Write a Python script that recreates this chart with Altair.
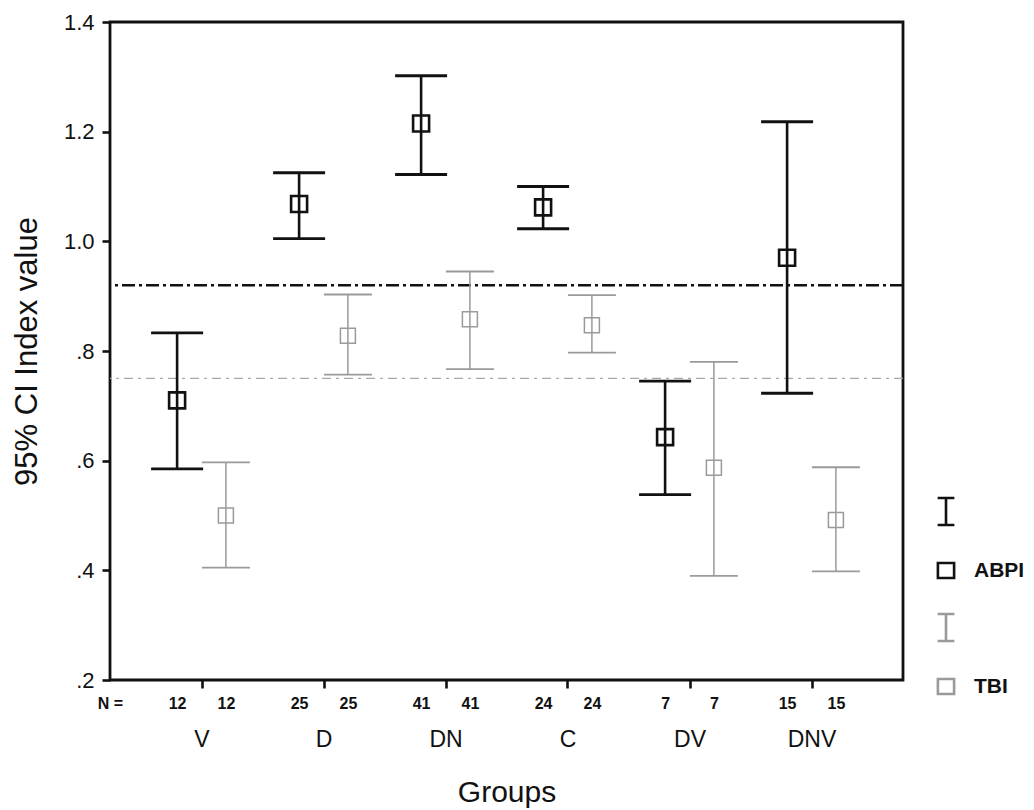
import json
import altair as alt
import pandas as pd

# ---------------- data ----------------
GROUPS = ["V", "D", "DN", "C", "DV", "DNV"]
N_ABPI = [12, 25, 41, 24, 7, 15]
N_TBI = [12, 25, 41, 24, 7, 15]

ABPI_MEAN = [0.710, 1.068, 1.215, 1.062, 0.643, 0.970]
ABPI_LOW = [0.585, 1.005, 1.122, 1.023, 0.538, 0.723]
ABPI_HIGH = [0.833, 1.125, 1.302, 1.100, 0.745, 1.218]

TBI_MEAN = [0.500, 0.828, 0.858, 0.847, 0.587, 0.492]
TBI_LOW = [0.405, 0.757, 0.767, 0.797, 0.390, 0.398]
TBI_HIGH = [0.597, 0.903, 0.945, 0.902, 0.780, 0.588]

REF_SERIES = ["ABPI", "TBI"]
REF_VALUES = [0.92, 0.75]

LEGEND_KEYS = ["ABPI_bar", "ABPI", "TBI_bar", "TBI"]

# ---------------- style ----------------
BLACK = "#111111"
GRAY = "#9a9a9a"
FONT = "Liberation Sans"
STYLE = {
    "ABPI": dict(color=BLACK, width=2.6, cap=26, size=256, shift=-0.2,
                 ref_color=BLACK, ref_width=2.4, dash=[13, 4, 3, 4]),
    "TBI": dict(color=GRAY, width=1.5, cap=24, size=225, shift=0.2,
                ref_color="#a8a8a8", ref_width=1.2, dash=[9, 5, 3, 5]),
}

rows = []
for s, mean, low, high, n in [("ABPI", ABPI_MEAN, ABPI_LOW, ABPI_HIGH, N_ABPI),
                              ("TBI", TBI_MEAN, TBI_LOW, TBI_HIGH, N_TBI)]:
    for i, g in enumerate(GROUPS):
        rows.append(dict(group=g, series=s, pos=i + STYLE[s]["shift"],
                         mean=mean[i], low=low[i], high=high[i], n=n[i]))
df = pd.DataFrame(rows)
ref_df = pd.DataFrame({"series": REF_SERIES, "value": REF_VALUES})
leg_df = pd.DataFrame({"key": LEGEND_KEYS})

X_DOMAIN = [-0.75, len(GROUPS) - 0.25]
xscale = alt.Scale(domain=X_DOMAIN, nice=False, zero=False)
yscale = alt.Scale(domain=[0.2, 1.4], nice=False, zero=False)
YTITLE = "95% CI Index value"

y_axis = alt.Axis(
    values=[0.2, 0.4, 0.6, 0.8, 1.0, 1.2, 1.4],
    labelExpr="datum.value < 1 ? slice(format(datum.value, '.1f'), 1) : format(datum.value, '.1f')",
    tickSize=8, tickWidth=2.6, tickColor=BLACK, domain=False, grid=False,
    labelFont=FONT, labelFontSize=22, labelColor=BLACK, labelPadding=8,
    titleFont=FONT, titleFontSize=31, titleFontWeight="normal", titleColor=BLACK,
    titlePadding=20,
)

x_axis_main = alt.Axis(
    orient="bottom", values=list(range(len(GROUPS))),
    labelExpr=json.dumps(GROUPS) + "[round(datum.value)]",
    tickSize=8, tickWidth=2.6, tickColor=BLACK, domain=False, grid=False,
    labelFont=FONT, labelFontSize=23, labelColor=BLACK, labelPadding=40,
    labelFlush=False, labelOverlap=False,
    titleFont=FONT, titleFontSize=30, titleFontWeight="normal", titleColor=BLACK,
    titlePadding=26,
)

# N axis: tick labels at each error bar position
n_map = {str(round(X_DOMAIN[0] * 100)): "N ="}
n_values = [X_DOMAIN[0]]
for r in rows:
    n_map[str(round(r["pos"] * 100))] = str(r["n"])
    n_values.append(r["pos"])
n_values = sorted(n_values)
x_axis_n = alt.Axis(
    orient="bottom", values=n_values,
    labelExpr=json.dumps(n_map) + "[round(datum.value * 100)]",
    ticks=False, tickSize=0, domain=False, grid=False,
    labelFont=FONT, labelFontSize=16, labelFontWeight="bold", labelColor=BLACK,
    labelPadding=15, labelFlush=False, labelOverlap=False, title="",
)

base = alt.Chart(df)
layers = []

for s in REF_SERIES:
    st = STYLE[s]
    layers.append(
        alt.Chart(ref_df).transform_filter(alt.datum.series == s)
        .mark_rule(color=st["ref_color"], strokeWidth=st["ref_width"], strokeDash=st["dash"])
        .encode(y=alt.Y("value:Q", scale=yscale, axis=y_axis, title=YTITLE))
    )

for k, s in enumerate(["ABPI", "TBI"]):
    st = STYLE[s]
    sub = base.transform_filter(alt.datum.series == s)
    stems = sub.mark_rule(color=st["color"], strokeWidth=st["width"]).encode(
        x=alt.X("pos:Q", scale=xscale, axis=x_axis_main if k == 0 else None, title="Groups"),
        y=alt.Y("low:Q", scale=yscale, axis=y_axis, title=YTITLE),
        y2="high:Q",
    )
    caps = sub.transform_fold(["low", "high"], as_=["end", "val"]).mark_rule(
        color=st["color"], strokeWidth=st["width"] + 0.3,
        xOffset=-st["cap"], x2Offset=st["cap"],
    ).encode(
        x=alt.X("pos:Q", scale=xscale, axis=None),
        x2="pos:Q",
        y=alt.Y("val:Q", scale=yscale, axis=y_axis, title=YTITLE),
    )
    pts = sub.mark_point(shape="square", filled=False, color=st["color"],
                         strokeWidth=st["width"], size=st["size"], opacity=1).encode(
        x=alt.X("pos:Q", scale=xscale, axis=x_axis_n if k == 0 else None, title=""),
        y=alt.Y("mean:Q", scale=yscale, axis=y_axis, title=YTITLE),
    )
    layers += [stems, caps, pts]

IBAR = "M-0.62,-1H0.62M0,-1V1M-0.62,1H0.62"
SQUARE = "M-0.6,-0.56H0.6V0.56H-0.6Z"
legend = alt.Legend(
    orient="none", legendX=821, legendY=474.5, title=None,
    symbolSize=729, labelFont=FONT, labelFontSize=21, labelFontWeight="bold",
    labelColor=BLACK, labelOffset=13, rowPadding=25, padding=0,
    labelExpr="indexof(datum.label, '_') >= 0 ? '' : datum.label",
)
leg_layer = alt.Chart(leg_df).mark_point(filled=False, clip=True, size=729, opacity=1).encode(
    y=alt.Y(datum=0, scale=yscale, axis=y_axis, title=YTITLE),
    color=alt.Color("key:N", scale=alt.Scale(domain=LEGEND_KEYS, range=[BLACK, BLACK, GRAY, GRAY]), legend=legend),
    shape=alt.Shape("key:N", scale=alt.Scale(domain=LEGEND_KEYS, range=[IBAR, SQUARE, IBAR, SQUARE]), legend=legend),
    strokeWidth=alt.StrokeWidth("key:N", scale=alt.Scale(domain=LEGEND_KEYS, range=[2.6, 2.6, 1.5, 1.5]), legend=legend),
)
layers.append(leg_layer)

chart = alt.layer(*layers).resolve_axis(x="independent").properties(
    width=793, height=658,
    padding={"left": 102, "top": 14, "right": 123, "bottom": 128},
    autosize=alt.AutoSizeParams(type="none"),
    background="white",
).configure_view(stroke=BLACK, strokeWidth=2.8)

chart.save("out.html", embed_options={"renderer": "svg", "actions": False})
